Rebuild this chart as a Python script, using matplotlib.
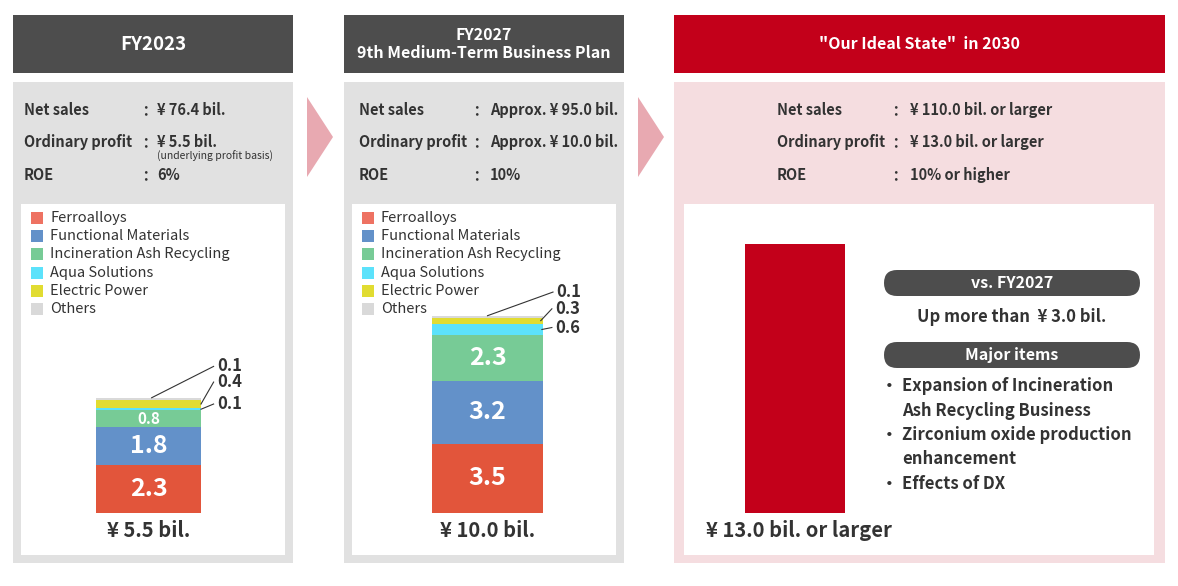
import matplotlib
matplotlib.use("Agg")
import matplotlib.pyplot as plt
from matplotlib.patches import Rectangle, Polygon, FancyBboxPatch

plt.rcParams['font.family'] = ['Noto Sans CJK JP', 'DejaVu Sans']

# ---- data ----
segments = ["Ferroalloys", "Functional Materials", "Incineration Ash Recycling",
            "Aqua Solutions", "Electric Power", "Others"]
seg_colors = ["#e2553b", "#6391c9", "#77cb96", "#5ce2fb", "#e1dc31", "#d9d9d9"]
legend_colors = ["#ee7262", "#6391c9", "#77cb96", "#5ce2fb", "#e1dc31", "#d9d9d9"]

fy2023 = [2.3, 1.8, 0.8, 0.1, 0.4, 0.1]
fy2027 = [3.5, 3.2, 2.3, 0.6, 0.3, 0.1]
goal2030 = 13.0

headers = ["FY2023", "FY2027\n9th Medium-Term Business Plan", "\"Our Ideal State\"  in 2030"]
header_sizes = [13.5, 11.5, 11.5]
metric_names = ["Net sales", "Ordinary profit", "ROE"]
metrics_2023 = ["¥ 76.4 bil.", "¥ 5.5 bil.", "6%"]
metrics_2027 = ["Approx. ¥ 95.0 bil.", "Approx. ¥ 10.0 bil.", "10%"]
metrics_2030 = ["¥ 110.0 bil. or larger", "¥ 13.0 bil. or larger", "10% or higher"]
totals = ["¥ 5.5 bil.", "¥ 10.0 bil.", "¥ 13.0 bil. or larger"]
increase_text = "Up more than  ¥ 3.0 bil."
major_items = ["Expansion of Incineration\nAsh Recycling Business",
               "Zirconium oxide production\nenhancement",
               "Effects of DX"]

W, H = 1178, 586
DARK = "#4d4d4d"
TEXT = "#333333"
RED = "#c3001a"
GREY_BG = "#e1e1e1"
PINK_BG = "#f5dde0"
ARROW = "#e8a9b1"

fig = plt.figure(figsize=(W / 100, H / 100), dpi=100)
bg = fig.add_axes([0, 0, 1, 1])
bg.set_xlim(0, W)
bg.set_ylim(H, 0)
bg.axis("off")

# panels: (x0, x1, header colour, body colour)
panels = [(13, 293, DARK, GREY_BG), (344, 624, DARK, GREY_BG), (674, 1165, RED, PINK_BG)]
inner = [(21, 285), (352, 616), (684, 1154)]
for (x0, x1, hc, bc), (i0, i1), title, fs in zip(panels, inner, headers, header_sizes):
    bg.add_patch(Rectangle((x0, 15), x1 - x0, 58, color=hc, lw=0))
    bg.add_patch(Rectangle((x0, 82), x1 - x0, 481, color=bc, lw=0))
    bg.add_patch(Rectangle((i0, 204), i1 - i0, 351, color="white", lw=0))
    bg.text((x0 + x1) / 2, 44, title, color="white", fontsize=fs, fontweight="bold",
            ha="center", va="center", linespacing=1.15)

# arrows between panels
for ax0 in (307, 638):
    bg.add_patch(Polygon([(ax0, 97), (ax0 + 26, 137), (ax0, 177)], color=ARROW, lw=0))

# metric rows
rows_y = [110, 142, 175]
for (lx, cx, vx), vals in zip([(24, 145, 157), (359, 476, 490), (777, 895, 910)],
                              [metrics_2023, metrics_2027, metrics_2030]):
    for y, name, val in zip(rows_y, metric_names, vals):
        bg.text(lx, y, name, color=TEXT, fontsize=10.5, fontweight="bold", va="center")
        bg.text(cx, y, "：", color=TEXT, fontsize=10.5, fontweight="bold", va="center", ha="center")
        bg.text(vx, y, val, color=TEXT, fontsize=10.5, fontweight="bold", va="center")
bg.text(157, 156, "(underlying profit basis)", color=TEXT, fontsize=7.5, va="center")

# legends
for lx in (31, 362):
    for i, (name, c) in enumerate(zip(segments, legend_colors)):
        y = 218 + i * 18.2
        bg.add_patch(Rectangle((lx, y - 6), 12, 12, color=c, lw=0))
        bg.text(lx + 19, y, name, color=TEXT, fontsize=10.5, va="center")


def bar_axes(x0, x1, px_per_unit, bottom=512.7, top=200):
    ax = fig.add_axes([x0 / W, 1 - bottom / H, (x1 - x0) / W, (bottom - top) / H])
    ax.set_xlim(-0.5, 0.5)
    ax.set_ylim(0, (bottom - top) / px_per_unit)
    ax.axis("off")
    ax.patch.set_alpha(0)
    return ax


def stacked(ax, values, inside_sizes):
    base = 0
    for v, c, fs in zip(values, seg_colors, inside_sizes):
        ax.bar(0, v, width=1, bottom=base, color=c, lw=0)
        if fs:
            ax.text(0, base + v / 2, f"{v:.1f}", color="white", fontsize=fs,
                    fontweight="bold", ha="center", va="center")
        base += v
    return base


def callout(ax, value, start, end):
    ax.plot([start[0], end[0]], [start[1], end[1]], color=TEXT, lw=0.8, clip_on=False)
    ax.text(end[0] + 0.03, end[1], f"{value:.1f}", color=TEXT, fontsize=12,
            fontweight="bold", ha="left", va="center", clip_on=False)


# FY2023 bar
ax1 = bar_axes(96, 201, 20.9)
t1 = stacked(ax1, fy2023, [18, 18, 11, None, None, None])
callout(ax1, fy2023[5], (0.03, t1), (0.62, 7.0))
callout(ax1, fy2023[4], (0.5, t1 - fy2023[5] - fy2023[4] / 2), (0.62, 6.25))
callout(ax1, fy2023[3], (0.5, sum(fy2023[:3]) + fy2023[3] / 2), (0.62, 5.2))
ax1.text(0, -0.83, totals[0], color=TEXT, fontsize=14.5, fontweight="bold", ha="center", va="center")

# FY2027 bar
ax2 = bar_axes(432, 543, 19.7)
t2 = stacked(ax2, fy2027, [18, 18, 18, None, None, None])
callout(ax2, fy2027[5], (0.0, t2), (0.59, 11.2))
callout(ax2, fy2027[4], (0.48, t2 - fy2027[5] - fy2027[4] / 2), (0.58, 10.35))
callout(ax2, fy2027[3], (0.49, sum(fy2027[:3]) + fy2027[3] * 0.5), (0.58, 9.4))
ax2.text(0, -0.88, totals[1], color=TEXT, fontsize=14.5, fontweight="bold", ha="center", va="center")

# 2030 bar
ax3 = bar_axes(745, 845, 20.7)
ax3.bar(0, goal2030, width=1, color=RED, lw=0)
ax3.text(0.04, -0.88, totals[2], color=TEXT, fontsize=14.5, fontweight="bold",
         ha="center", va="center", clip_on=False)

# right-hand notes
for y, label in [(283, "vs. FY2027"), (355, "Major items")]:
    bg.add_patch(FancyBboxPatch((884, y - 13), 256, 26,
                                boxstyle="round,pad=0,rounding_size=13", color=DARK, lw=0))
    bg.text(1012, y, label, color="white", fontsize=11.5, fontweight="bold", ha="center", va="center")
bg.text(1012, 317, increase_text, color=TEXT, fontsize=12, fontweight="bold", ha="center", va="center")

item_y = 386
for item in major_items:
    lines = item.split("\n")
    bg.text(889, item_y, "・", color=TEXT, fontsize=12, fontweight="bold", ha="center", va="center")
    for j, line in enumerate(lines):
        bg.text(902, item_y + j * 24.5, line, color=TEXT, fontsize=12, fontweight="bold",
                ha="left", va="center")
    item_y += 24.5 * len(lines)

fig.savefig("out.png", dpi=100)
